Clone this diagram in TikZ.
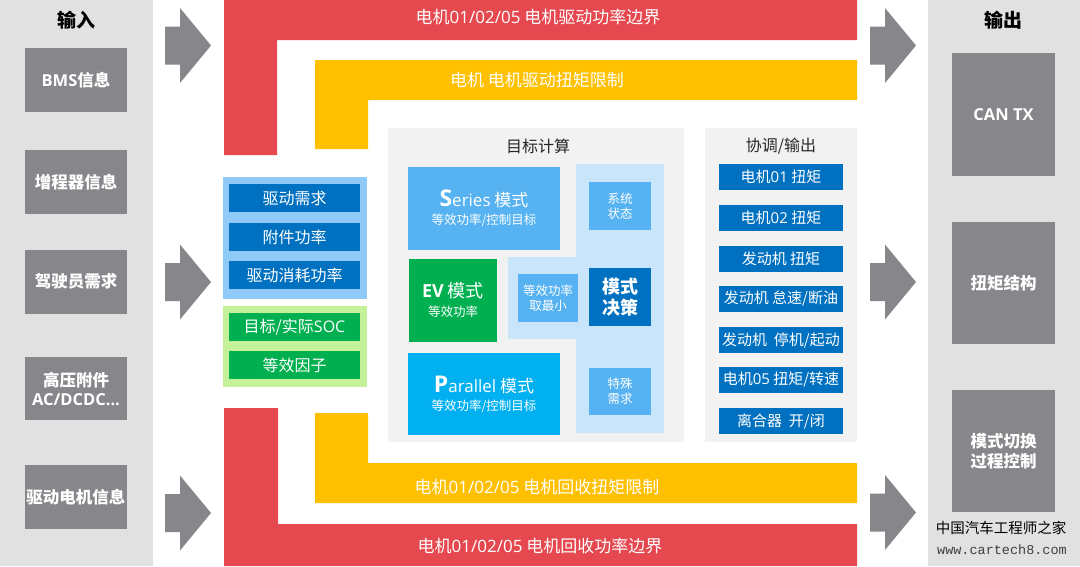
\documentclass[tikz,border=0pt]{standalone}
\usepackage{fontspec}
\setmainfont{Noto Sans CJK SC}
\newfontfamily\latfont{Open Sans}
\newfontfamily\wmmono{Liberation Mono}
\newcommand\latn[1]{{\latfont #1}}
\newcommand\fs[2]{\fontsize{#1pt}{#2pt}\selectfont}
\definecolor{panelgray}{HTML}{E0E1E0}
\definecolor{boxgray}{HTML}{87878B}
\definecolor{barred}{HTML}{E5484F}
\definecolor{baryellow}{HTML}{FFC000}
\definecolor{calcgray}{HTML}{F2F2F2}
\definecolor{paleblue}{HTML}{8FCAF8}
\definecolor{darkblue}{HTML}{0070C0}
\definecolor{palegreen}{HTML}{C5F19B}
\definecolor{darkgreen}{HTML}{00B050}
\definecolor{skyblue}{HTML}{56B2F1}
\definecolor{cyanblue}{HTML}{00B0F0}
\definecolor{regionblue}{HTML}{C9E5F9}
\tikzset{
  blockarrow/.pic={\fill[boxgray] (-46,-19) -- (-31,-19) -- (-31,-37.5) -- (0,0) -- (-31,37.5) -- (-31,19) -- (-46,19) -- cycle;}
}
\begin{document}
\begin{tikzpicture}[x=1pt,y=-1pt,
  box/.style={inner sep=0pt, outer sep=0pt, align=center, text=white},
  graybox/.style={box, fill=boxgray, font=\fs{16.5}{19}\bfseries, minimum width=102pt, minimum height=64pt},
  outgraybox/.style={graybox, minimum width=103pt, minimum height=122pt},
  bluebar/.style={box, fill=darkblue, font=\fs{16}{19}, minimum width=131pt, minimum height=28pt},
  greenbar/.style={bluebar, fill=darkgreen},
  outbar/.style={box, fill=darkblue, font=\fs{15}{18}, minimum width=124pt, minimum height=26pt},
  bartext/.style={text=white, font=\fs{17}{20}, inner sep=0pt},
  paneltitle/.style={font=\fs{16}{19}, text=black!85, inner sep=0pt},
  headtitle/.style={font=\fs{19}{22}\bfseries, text=black, inner sep=0pt},
  modebox/.style={box, minimum width=152pt, minimum height=83pt, font=\fs{17}{18}},
  smallbox/.style={box, fill=skyblue, font=\fs{12.5}{15}, minimum width=62pt, minimum height=48pt}
]
\useasboundingbox (0,0) rectangle (1080,566);
\fill[white] (0,0) rectangle (1080,566);
% side panels
\fill[panelgray] (0,0) rectangle (153,566);
\fill[panelgray] (928,0) rectangle (1080,566);
% L-shaped bars
\fill[barred] (224,0) -- (857,0) -- (857,40) -- (277,40) -- (277,155) -- (224,155) -- cycle;
\fill[baryellow] (315,60) -- (857,60) -- (857,100) -- (368,100) -- (368,149) -- (315,149) -- cycle;
\fill[baryellow] (315,413) -- (368,413) -- (368,463) -- (857,463) -- (857,503) -- (315,503) -- cycle;
\fill[barred] (224,408) -- (278,408) -- (278,524) -- (857,524) -- (857,566) -- (224,566) -- cycle;
\node[bartext] (t1) at (538,17) {电机\latn{01/02/05} 电机驱动功率边界};
\node[bartext] (t2) at (537,80) {电机 电机驱动扭矩限制};
\node[bartext] (t3) at (537,487) {电机\latn{01/02/05} 电机回收扭矩限制};
\node[bartext] (t4) at (540,546) {电机\latn{01/02/05} 电机回收功率边界};
% block arrows
\pic at (211,45.5) {blockarrow};
\pic at (211,282) {blockarrow};
\pic at (211,513) {blockarrow};
\pic at (916,45.5) {blockarrow};
\pic at (916,282) {blockarrow};
\pic at (916,512.5) {blockarrow};
% inputs
\node[headtitle] (intitle) at (76,20) {输入};
\node[graybox] (bms) at (76,80) {\latn{BMS}信息};
\node[graybox] (rex) at (76,182) {增程器信息};
\node[graybox] (drv) at (76,281.5) {驾驶员需求};
\node[graybox, minimum height=63pt] (hv) at (76,388.5) {高压附件\\\latn{AC/DCDC...}};
\node[graybox] (mot) at (76,497) {驱动电机信息};
% outputs
\node[headtitle] (outtitle) at (1003,20) {输出};
\node[outgraybox, minimum height=123pt] (can) at (1003.5,114.5) {\latn{CAN TX}};
\node[outgraybox] (tq) at (1003.5,283) {扭矩结构};
\node[outgraybox, font=\fs{16.5}{20}\bfseries] (msw) at (1003.5,451) {模式切换\\过程控制};
% demand panel
\fill[paleblue] (223,177) rectangle (367,299);
\node[bluebar] (d1) at (294.5,198) {驱动需求};
\node[bluebar] (d2) at (294.5,237) {附件功率};
\node[bluebar] (d3) at (294.5,275) {驱动消耗功率};
\fill[palegreen] (223,306) rectangle (367,387);
\node[greenbar] (g1) at (294.5,327) {目标/实际\latn{SOC}};
\node[greenbar] (g2) at (294.5,365) {等效因子};
% target calculation panel
\fill[calcgray] (388,128) rectangle (684,442);
\node[paneltitle] (calctitle) at (538,146) {目标计算};
\fill[regionblue] (576,164) -- (664,164) -- (664,433) -- (576,433) -- (576,339) -- (508,339) -- (508,257) -- (576,257) -- cycle;
\node[modebox, fill=skyblue] (series) at (484,208) {{\fs{23}{18}\bfseries\latn{S}}\latn{eries} 模式\\{\fs{12.5}{15}等效功率/控制目标}};
\node[modebox, fill=darkgreen, minimum width=88pt, font=\fs{18}{19}] (ev) at (453,300) {{\bfseries\latn{EV}} 模式\\{\fs{12.5}{15}等效功率}};
\node[modebox, fill=cyanblue, minimum height=82pt] (par) at (484,394) {{\fs{23}{18}\bfseries\latn{P}}\latn{arallel} 模式\\{\fs{12.5}{15}等效功率/控制目标}};
\node[smallbox] (sys) at (620,206) {系统\\状态};
\node[smallbox, minimum width=60pt] (eqmin) at (548,298) {等效功率\\取最小};
\node[box, fill=darkblue, minimum width=62pt, minimum height=58pt, font=\fs{18}{21}\bfseries] (dec) at (620,297) {模式\\决策};
\node[smallbox, minimum height=47pt] (spec) at (620,391.5) {特殊\\需求};
% coordination / output panel
\fill[calcgray] (705,128) rectangle (857,442);
\node[paneltitle] (cotitle) at (781,146) {协调/输出};
\node[outbar] (o1) at (781,176.5) {电机\latn{01} 扭矩};
\node[outbar] (o2) at (781,218) {电机\latn{02} 扭矩};
\node[outbar] (o3) at (781,258.5) {发动机 扭矩};
\node[outbar] (o4) at (781,299) {发动机 怠速/断油};
\node[outbar] (o5) at (781,340) {发动机\ \ 停机/起动};
\node[outbar] (o6) at (781,380) {电机\latn{05} 扭矩/转速};
\node[outbar] (o7) at (781,421) {离合器\ \ 开/闭};
% watermark
\node[inner sep=0pt, font=\fs{14.5}{17}, text=black] (wm1) at (1001,528) {中国汽车工程师之家};
\node[inner sep=0pt, font=\wmmono\fs{13.5}{16}, text=black!75] (wm2) at (1002,550) {www.cartech8.com};
\end{tikzpicture}
\end{document}
